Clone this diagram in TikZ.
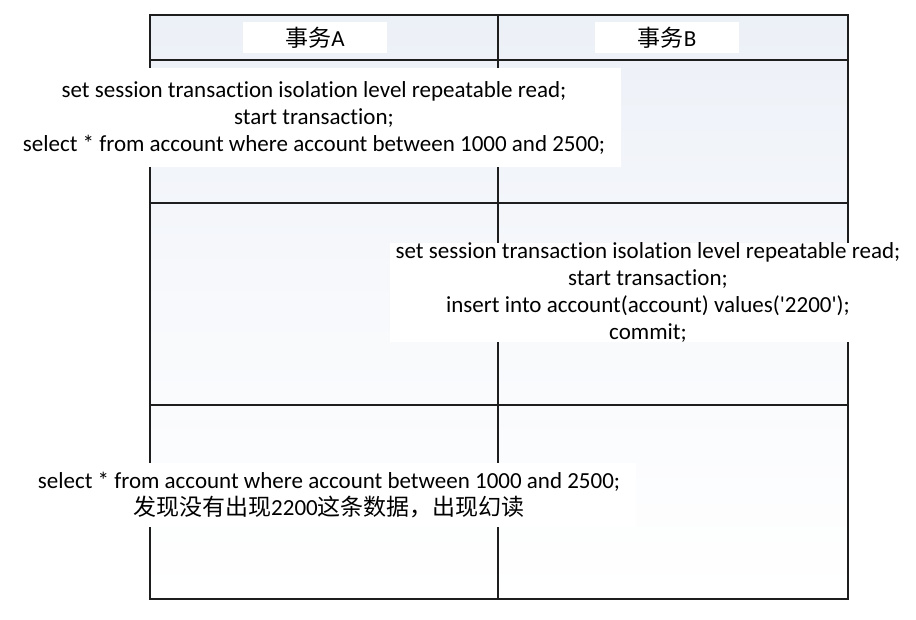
\documentclass[tikz,border=0pt]{standalone}
\usepackage{fontspec}
\setmainfont[Ligatures={NoCommon,TeXOff}]{Carlito}
\newfontfamily\cjk{Noto Sans CJK SC}
\definecolor{cellTop}{RGB}{236,240,247}
\definecolor{gridLine}{RGB}{30,30,30}
\tikzset{
  whitebox/.style={fill=white, draw=none, inner sep=0pt, align=center,
    font=\fontsize{23}{27}\selectfont},
  gridline/.style={draw=gridLine, line width=1.2pt}
}
\begin{document}
\begin{tikzpicture}[x=1pt, y=-1pt]
\useasboundingbox (0,0) rectangle (916,619);
% table background
\shade[top color=cellTop, bottom color=white, middle color=cellTop!40]
  (150,15) rectangle (848,599);
% grid
\draw[gridline] (150,15) rectangle (848,599);
\draw[gridline] (498,15) -- (498,599);
\draw[gridline] (150,60) -- (848,60);
\draw[gridline] (150,203) -- (848,203);
\draw[gridline] (150,405) -- (848,405);
% headers
\node[whitebox, minimum width=144pt, minimum height=31pt] (hA) at (315,37.5) {{\cjk 事务}A};
\node[whitebox, minimum width=144pt, minimum height=31pt] (hB) at (667,37.5) {{\cjk 事务}B};
% cells
\node[whitebox, minimum width=614pt, minimum height=99pt] (a1) at (314,117.5)
  {set session transaction isolation level repeatable read;\\
   start transaction;\\
   select * from account where account between 1000 and 2500;};
\node[whitebox, minimum width=516pt, minimum height=99pt] (b2) at (648,292.5)
  {set session transaction isolation level repeatable read;\\
   start transaction;\\
   insert into account(account) values('2200');\\
   commit;};
\node[whitebox, minimum width=614pt, minimum height=64pt] (a3) at (329,495)
  {select * from account where account between 1000 and 2500;\\
   {\cjk 发现没有出现}2200{\cjk 这条数据，出现幻读}};
\end{tikzpicture}
\end{document}
